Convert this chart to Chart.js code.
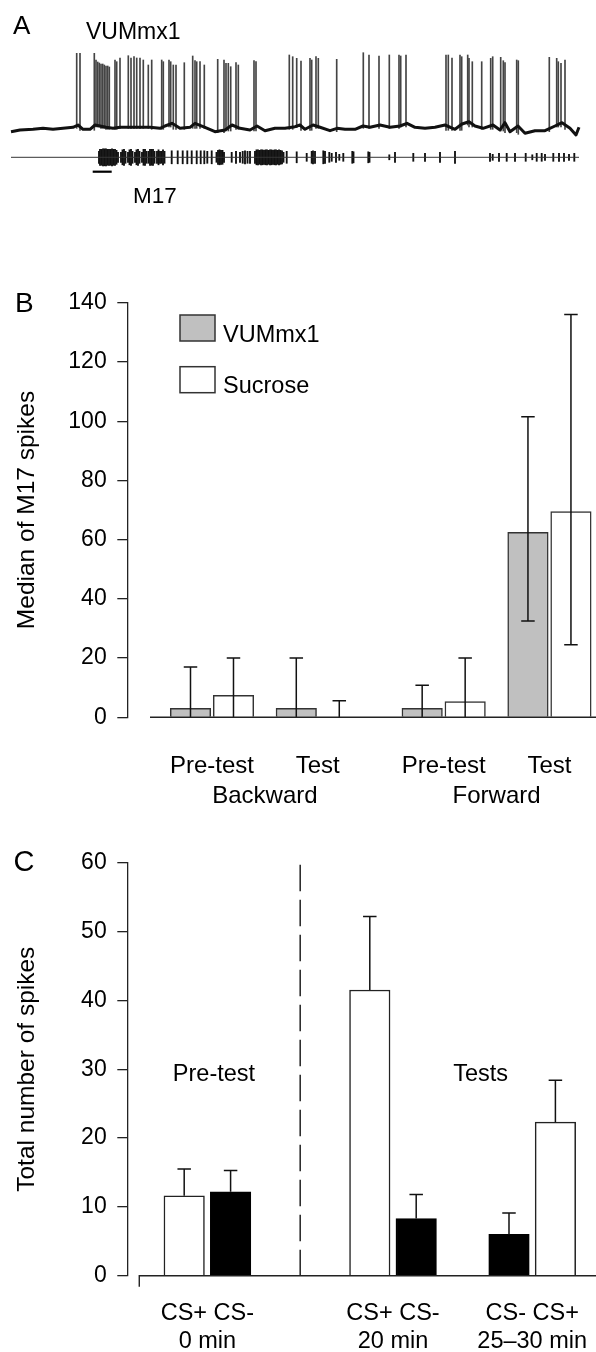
<!DOCTYPE html>
<html><head><meta charset="utf-8">
<script src="https://cdn.jsdelivr.net/npm/chart.js@4/dist/chart.umd.min.js"></script>
<style>
html,body{margin:0;padding:0;background:#fff;}
body{width:596px;height:1352px;position:relative;overflow:hidden;}
.box{position:absolute;left:0;width:596px;}
</style></head><body>
<div class="box" style="top:0;height:215px"><canvas id="ca"></canvas></div>
<div class="box" style="top:250px;height:570px"><canvas id="cb"></canvas></div>
<div class="box" style="top:830px;height:522px"><canvas id="cc"></canvas></div>
<script>
// ---------------- DATA ----------------
// Panel A: VUMmx1 intracellular trace (time, level) and spikes; M17 extracellular spikes
const vumT = [11,20,33,43,53,63,73,78,83,90,95,100,106,113,120,130,140,150,160,165,172,180,190,195,205,215,225,232,240,250,257,265,275,285,295,300,305,313,320,330,337,345,355,363,370,380,390,400,407,415,425,435,445,455,462,469,475,483,493,500,505,510,518,525,535,545,555,562,570,576,579];
const vumV = [-3.7,-2,-1.3,-0.3,-1.3,-0.3,0.7,3,-1.3,-1.3,3,2,0.7,-0.3,0.7,0.7,0.7,0.7,-0.3,2,4.7,-0.3,0.7,4.7,0.7,-3.7,-2,3,-0.3,-2,2,-2.7,-0.3,-0.3,1.3,3,-1.3,3,0.7,-2.7,-0.3,-1.3,-1.3,2,0.7,3,0.7,2,4.7,0.7,-0.3,0.7,3,-1.3,4,6.3,2,-0.3,3,-2,5.3,-3.7,2,-5.3,-2.7,-2.7,2,5.3,-0.3,-7,0.7];
const vumSpikeT = [76.7,80,94.3,96,97.7,99.3,101,102.7,104.3,106,107.7,109.3,115,116.7,120,128.3,131,134,136.7,140,143.3,148.3,151.7,161.7,163.3,169,170.7,173.3,176,184.3,192.7,195,196.7,200,204.3,217.7,224,226,228.3,230.7,236,238.3,254,256,289.3,292.7,296.7,301,310,311.7,316,318.3,336.7,363.3,369,379,389.3,399,400.7,406,446,448.3,452,460,461.7,467.7,469,472.3,481.7,490.7,492.7,500.7,503.3,505,516.7,518.3,549.3,556.7,558.3,561,565];
const vumSpikePeak = [74.7,74.7,74.7,68,66,65,64,64,63,62,62,61,68,66.3,70,72.3,70,71.3,70,70,68,63,68,68,66.3,68,66.3,63,63,65.3,72,67.3,66.3,66.3,63,68.7,68,64.7,64.7,61.3,65.3,63,67.3,66.3,73,71.3,69.7,67,69.7,68,71.3,69.7,68.7,75.3,73,72,73,73,72,73,73,73,70,73,71.3,73,69.7,66.3,66.3,69.7,71.3,70.7,67.3,65.3,68,67.3,70.7,69.7,66.3,64.7,68];
const m17T = [99,100,101.5,103,104.5,106,107.5,109,110.5,112,113.5,115,116.5,118,121,122.5,124,125.5,128,129.5,131,132.5,135,136.5,138,139.5,142,143.5,145,146.5,148.5,150,151.5,153,154.5,157,158.5,160,161.5,163,164.5,171.7,177.7,182.7,187.3,191.7,196.7,200.7,204.3,207.3,211.7,216.5,218,219.5,221,222.5,224,231.7,236,240,242.7,245,247.5,250,255,256.5,258,259.5,261,262.5,264,265.5,267,268.5,270,271.5,273,274.5,276,277.5,279,280.5,282,283.5,286.7,296.7,306.7,311.7,313,315,323.3,325,329.3,331.7,336,339.3,343.3,352.3,353.5,368.3,369.5,389.3,395,413.3,425,440,455,490,492.7,499,506.7,515,525.7,532.3,536.7,541.7,545,553.3,559,564,569,574.3];
const m17Amp = [6,8,8,8.5,8.5,8.5,8,8,8,8.5,8,8,7,5,5,7.5,8,6,5,7.5,8,6,5,7.5,8,6,5,8,8,6,6,8,8,8,6,6,7.5,6,6,7.5,6,6.5,6.5,6.5,6.5,6.5,6.5,6.5,6.5,6,6.5,5,7,7.5,7,7,5,5,6,5,6,6.5,6,6,6,7.5,7.5,7,7.5,7.5,7,7.5,7.5,7,7.5,7.5,7,7.5,7.5,7,7.5,7,6.5,5,6,5.5,4,6,6.5,6,6.5,6,5,4,5,3,4,6,5.5,5.5,5,2.5,5,4,4,5,6,4,3,4,4,4,4,2.5,4,4,3,4,4,4,3,4];
const m17Level = -29.3;
const stimT = [92.7, 111.7];
const stimLevel = -43.7;

// Panel B: medians with interquartile ranges
const bCategories = ['Pre-test','Test','Pre-test','Test'];
const bGroups = ['Backward','Forward'];
const bSeries = ['VUMmx1','Sucrose'];
const vumMedian = [3, 3, 3, 62.5];
const vumQ1 = [0, 0, 0, 32.5];
const vumQ3 = [17, 20, 10.8, 101.5];
const sucMedian = [7.4, 0, 5.3, 69.5];
const sucQ1 = [0, 0, 0, 24.5];
const sucQ3 = [20, 5.6, 20, 136];
const bTicks = [0,20,40,60,80,100,120,140];

// Panel C: total number of spikes (mean + error)
const cGroups = [['CS+ CS-','0 min'],['CS+ CS-','20 min'],['CS- CS+','25\u201330 min']];
const csPlus = [11.6, 41.5, 22.3];
const csPlusErr = [15.5, 52.2, 28.4];
const csMinus = [12.2, 8.3, 6.0];
const csMinusErr = [15.3, 11.8, 9.1];
const cPhases = ['Pre-test','Tests'];
const cTicks = [0,10,20,30,40,50,60];

// ---------------- LAYOUT ----------------
const FONT = "'Liberation Sans', Arial, Helvetica, sans-serif";
const B_POS = [0, 1, 2.19, 3.19], B_OFF = 0.2032, B_XMIN = -0.794, B_XMAX = 3.63, B_BASE0 = -0.586;
const C_POS = [0.5, 4.5, 7.5], C_OFF = 0.5, C_XMIN = -1.211, C_XMAX = 8.875, C_BASE0 = -0.968;
const C_PHASE_POS = [[0.642, 29.2], [6.39, 29.2]];
const CAP = 13.5;

Chart.defaults.font.family = FONT;
Chart.defaults.color = '#000';

function yAxis(ticks, title) {
  return {
    type: 'linear', min: ticks[0], max: ticks[ticks.length - 1],
    afterBuildTicks: s => { s.ticks = ticks.map(v => ({value: v})); },
    afterFit: s => { s.width = 128; s.paddingTop = 0; s.paddingBottom = 0; },
    grid: {drawOnChartArea: false, tickLength: 10.7, color: '#222', lineWidth: 1.3},
    border: {display: true, color: '#222', width: 1.3},
    ticks: {font: {family: FONT, size: 23}, color: '#000', padding: 10.6},
    title: {display: true, text: title, font: {family: FONT, size: 24.5}, color: '#000', padding: {top: 12.3, bottom: 0}}
  };
}
function xAxis(min, max, pos, labels, height, pad, fsize, lh) {
  return {
    type: 'linear', min: min, max: max, offset: false,
    afterBuildTicks: s => { s.ticks = pos.map(v => ({value: v})); },
    afterFit: s => { s.height = height; s.paddingLeft = 0; s.paddingRight = 0; },
    grid: {display: false, offset: false}, border: {display: false},
    ticks: {callback: (v, i) => labels[i], autoSkip: false, maxRotation: 0, minRotation: 0,
            font: {family: FONT, size: fsize, lineHeight: lh}, color: '#000', padding: pad}
  };
}

const errPlugin = {
  id: 'errbars',
  afterDatasetsDraw(chart) {
    const ctx = chart.ctx, ys = chart.scales.y;
    chart.data.datasets.forEach((ds, di) => {
      if (!ds.errHigh) return;
      chart.getDatasetMeta(di).data.forEach((bar, i) => {
        const x = bar.x, lo = ys.getPixelForValue(ds.errLow[i]), hi = ys.getPixelForValue(ds.errHigh[i]);
        ctx.save();
        ctx.strokeStyle = '#111'; ctx.lineWidth = 1.5;
        ctx.beginPath();
        ctx.moveTo(x, lo); ctx.lineTo(x, hi);
        ctx.moveTo(x - CAP / 2, hi); ctx.lineTo(x + CAP / 2, hi);
        if (ds.lowCap && ds.errLow[i] > 0) { ctx.moveTo(x - CAP / 2, lo); ctx.lineTo(x + CAP / 2, lo); }
        ctx.stroke();
        ctx.restore();
      });
    });
  }
};
function baselinePlugin(start, foot) {
  return {
    id: 'baseline',
    afterDatasetsDraw(chart) {
      const ctx = chart.ctx, xs = chart.scales.x, ys = chart.scales.y;
      const y0 = ys.getPixelForValue(0), x0 = xs.getPixelForValue(start);
      ctx.save();
      ctx.strokeStyle = '#222'; ctx.lineWidth = 1.4;
      ctx.beginPath();
      ctx.moveTo(x0, y0 + (foot || 0));
      ctx.lineTo(x0, y0); ctx.lineTo(chart.width, y0);
      ctx.stroke();
      ctx.restore();
    }
  };
}
function textPlugin(id, items) {
  return {
    id: id,
    afterDraw(chart) {
      const ctx = chart.ctx;
      items(chart).forEach(t => {
        ctx.save();
        ctx.font = t.size + 'px ' + FONT;
        ctx.fillStyle = '#000';
        ctx.textAlign = t.align || 'left';
        ctx.textBaseline = t.base || 'alphabetic';
        ctx.fillText(t.text, t.x, t.y);
        ctx.restore();
      });
    }
  };
}

// ---------------- PANEL A ----------------
function footAt(t) {
  for (let i = 0; i < vumT.length - 1; i++) {
    if (t >= vumT[i] && t < vumT[i + 1]) return Math.min(vumV[i], vumV[i + 1]) - 1;
  }
  return vumV[vumV.length - 1] - 1;
}
new Chart(document.getElementById('ca'), {
  type: 'line',
  data: {datasets: [
    {type: 'line', data: vumT.map((t, i) => ({x: t, y: vumV[i]})), borderColor: '#111', borderWidth: 3, pointRadius: 0, tension: 0, borderJoinStyle: 'round'},
    {type: 'line', data: [{x: vumT[0], y: m17Level}, {x: vumT[vumT.length - 1], y: m17Level}], borderColor: '#333', borderWidth: 1, pointRadius: 0},
    {type: 'line', data: stimT.map(t => ({x: t, y: stimLevel})), borderColor: '#000', borderWidth: 2.2, pointRadius: 0},
    {type: 'bar', data: vumSpikeT.map((t, i) => ({x: t, y: [footAt(t), vumSpikePeak[i]]})), backgroundColor: '#444', barThickness: 1, grouped: false, borderWidth: 0},
    {type: 'bar', data: m17T.map((t, i) => ({x: t, y: [m17Level - m17Amp[i], m17Level + m17Amp[i]]})), backgroundColor: '#111', barThickness: 1.2, grouped: false, borderWidth: 0}
  ]},
  options: {
    animation: false, responsive: true, maintainAspectRatio: false, events: [],
    layout: {padding: 0},
    plugins: {legend: {display: false}, tooltip: {enabled: false}},
    scales: {x: {type: 'linear', min: 0, max: 596, display: false, offset: false, grid: {offset: false}}, y: {type: 'linear', min: -87, max: 128, display: false}}
  },
  plugins: [textPlugin('atext', () => [
    {text: 'A', x: 13, y: 33.5, size: 26},
    {text: 'VUMmx1', x: 86, y: 38.5, size: 23},
    {text: 'M17', x: 133, y: 203, size: 22.5}
  ])]
});

// ---------------- PANEL B ----------------
new Chart(document.getElementById('cb'), {
  type: 'bar',
  data: {datasets: [
    {label: bSeries[0], data: vumMedian.map((v, i) => ({x: B_POS[i] - B_OFF, y: v})), backgroundColor: '#c0c0c0', borderColor: '#333', borderWidth: 1.5, barThickness: 40.5, grouped: false, errLow: vumQ1, errHigh: vumQ3, lowCap: true},
    {label: bSeries[1], data: sucMedian.map((v, i) => ({x: B_POS[i] + B_OFF, y: v})), backgroundColor: '#ffffff', borderColor: '#333', borderWidth: 1.5, barThickness: 40.5, grouped: false, errLow: sucQ1, errHigh: sucQ3, lowCap: true}
  ]},
  options: {
    animation: false, responsive: true, maintainAspectRatio: false, events: [],
    layout: {padding: {top: 52.7, left: 0, right: 0, bottom: 0}},
    plugins: {legend: {display: false}, tooltip: {enabled: false}},
    scales: {
      x: xAxis(B_XMIN, B_XMAX, B_POS, bCategories, 102.7, 26.3, 24, 1.2),
      y: yAxis(bTicks, 'Median of M17 spikes')
    }
  },
  plugins: [errPlugin, baselinePlugin(B_BASE0, 0), {
    id: 'blegend',
    afterDraw(chart) {
      const ctx = chart.ctx, ca = chart.chartArea;
      chart.data.datasets.forEach((ds, i) => {
        const bx = ca.left + 52, by = ca.top + 12.3 + i * 51.7;
        ctx.save();
        ctx.fillStyle = ds.backgroundColor; ctx.fillRect(bx, by, 35, 26);
        ctx.strokeStyle = '#333'; ctx.lineWidth = 1.5; ctx.strokeRect(bx, by, 35, 26);
        ctx.fillStyle = '#000'; ctx.font = '23.5px ' + FONT; ctx.textBaseline = 'alphabetic';
        ctx.fillText(ds.label, bx + 43, by + 26.5);
        ctx.restore();
      });
    }
  }, textPlugin('btext', chart => {
    const xs = chart.scales.x, ca = chart.chartArea;
    const out = [{text: 'B', x: 15, y: 61.7, size: 28}];
    bGroups.forEach((g, k) => {
      out.push({text: g, x: xs.getPixelForValue((B_POS[2 * k] + B_POS[2 * k + 1]) / 2), y: ca.bottom + 78.7, size: 24, align: 'center', base: 'middle'});
    });
    return out;
  })]
});

// ---------------- PANEL C ----------------
const plusX = [], minusX = [];
cGroups.forEach((g, k) => {
  const plusFirst = g[0].split(' ')[0] === 'CS+';
  plusX.push(C_POS[k] + (plusFirst ? -C_OFF : C_OFF));
  minusX.push(C_POS[k] + (plusFirst ? C_OFF : -C_OFF));
});
new Chart(document.getElementById('cc'), {
  type: 'bar',
  data: {datasets: [
    {label: 'CS+', data: csPlus.map((v, i) => ({x: plusX[i], y: v})), backgroundColor: '#ffffff', borderColor: '#222', borderWidth: 1.5, barThickness: 40.5, grouped: false, errLow: csPlus, errHigh: csPlusErr},
    {label: 'CS-', data: csMinus.map((v, i) => ({x: minusX[i], y: v})), backgroundColor: '#000000', borderColor: '#000', borderWidth: 1.5, barThickness: 40.5, grouped: false, errLow: csMinus, errHigh: csMinusErr}
  ]},
  options: {
    animation: false, responsive: true, maintainAspectRatio: false, events: [],
    layout: {padding: {top: 32.7, left: 0, right: 0, bottom: 0}},
    plugins: {legend: {display: false}, tooltip: {enabled: false}},
    scales: {
      x: xAxis(C_XMIN, C_XMAX, C_POS, cGroups, 76.3, 16.1, 23.5, 1.19),
      y: yAxis(cTicks, 'Total number of spikes')
    }
  },
  plugins: [errPlugin, baselinePlugin(C_BASE0, 11), {
    id: 'dash',
    beforeDatasetsDraw(chart) {
      const ctx = chart.ctx, xs = chart.scales.x, ys = chart.scales.y;
      const x = xs.getPixelForValue((C_POS[0] + C_POS[1]) / 2);
      ctx.save();
      ctx.strokeStyle = '#222'; ctx.lineWidth = 1.5; ctx.setLineDash([26.5, 8.5]);
      ctx.beginPath(); ctx.moveTo(x, ys.getPixelForValue(59.7)); ctx.lineTo(x, ys.getPixelForValue(0)); ctx.stroke();
      ctx.restore();
    }
  }, textPlugin('ctext', chart => {
    const xs = chart.scales.x, ys = chart.scales.y;
    const out = [{text: 'C', x: 13.5, y: 41, size: 29}];
    cPhases.forEach((p, k) => out.push({text: p, x: xs.getPixelForValue(C_PHASE_POS[k][0]), y: ys.getPixelForValue(C_PHASE_POS[k][1]), size: 23.5, align: 'center', base: 'middle'}));
    return out;
  })]
});
</script>
</body></html>
